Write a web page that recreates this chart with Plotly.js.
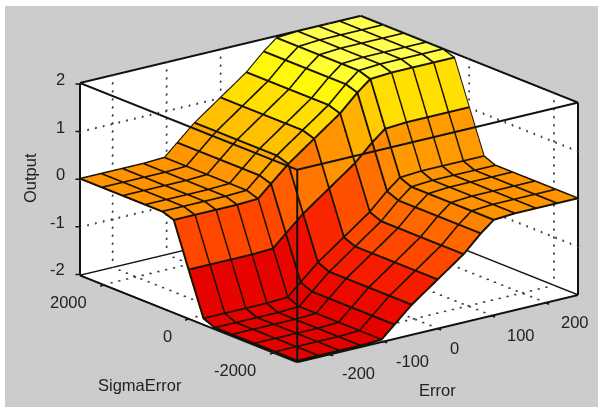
<!DOCTYPE html>
<html><head><meta charset="utf-8">
<script src="https://cdn.plot.ly/plotly-3.0.1.min.js"></script>
<style>html,body{margin:0;padding:0;background:#fff;overflow:hidden}#c{position:absolute;left:5px;top:6px;width:593px;height:401px}</style>
</head><body><div id="c"></div>
<script>
const errorGrid = [-260,-221,-182,-143,-104,-80,-48,0,48,80,104,143,182,221,260];
const sigmaGrid = [-2560,-2040,-1550,-1020,-620,-350,0,350,620,1020,1550,2040,2560];
const output = [
 [-2,-2,-2,-2,-1.98,-1.73,-1.4,-1,-.6,-.25,-.03,0,0,0,0],
 [-2,-2,-2,-2,-1.98,-1.73,-1.4,-1,-.6,-.25,-.03,0,0,0,0],
 [-2,-2,-2,-2,-1.98,-1.73,-1.4,-1,-.6,-.25,-.03,0,0,0,0],
 [-2,-2,-2,-2,-1.98,-1.73,-1.4,-1,-.6,-.25,-.03,0,0,0,0],
 [-2,-2,-2,-2,-1.98,-1.73,-1.4,-1,-.6,-.25,-.03,0,0,0,0],
 [-1.9,-1.9,-1.9,-1.9,-1.88,-1.63,-1.3,-.9,-.5,-.15,.07,.1,.1,.1,.1],
 [-1,-1,-1,-1,-.98,-.73,-.4,0,.4,.75,.97,1,1,1,1],
 [-.08,-.08,-.08,-.08,-.06,.19,.52,.92,1.32,1.67,1.89,1.92,1.92,1.92,1.92],
 [0,0,0,0,.02,.27,.6,1,1.4,1.75,1.97,2,2,2,2],
 [0,0,0,0,.02,.27,.6,1,1.4,1.75,1.97,2,2,2,2],
 [0,0,0,0,.02,.27,.6,1,1.4,1.75,1.97,2,2,2,2],
 [0,0,0,0,.02,.27,.6,1,1.4,1.75,1.97,2,2,2,2],
 [0,0,0,0,.02,.27,.6,1,1.4,1.75,1.97,2,2,2,2]
];
const errorTicks = [-200,-100,0,100,200];
const sigmaTicks = [-2000,0,2000];
const outputTicks = [-2,-1,0,1,2];
const errorRange = [-260,260], sigmaRange = [-2560,2560], outputRange = [-2.02,2.02];
const LIFT = 0.012;

const colors = [[0,'#e40000'],[.125,'#f51000'],[.25,'#ff4800'],[.375,'#ff7000'],[.5,'#ff9400'],[.625,'#ffb800'],[.75,'#ffdf00'],[.875,'#ffff0a'],[1,'#ffff50']];

const nx = errorGrid.length, ny = sigmaGrid.length;
const vx=[],vy=[],vz=[],ti=[],tj=[],tk=[],cell=[];
for(let r=0;r<ny;r++)for(let c=0;c<nx;c++){vx.push(errorGrid[c]);vy.push(sigmaGrid[r]);vz.push(output[r][c]);}
for(let r=0;r<ny-1;r++)for(let c=0;c<nx-1;c++){
  const a=r*nx+c,b=a+1,d=a+nx,e=d+1;
  ti.push(a,a);tj.push(b,e);tk.push(e,d);
  cell.push(output[r][c],output[r][c]);
}
const surf={type:'mesh3d',x:vx,y:vy,z:vz,i:ti,j:tj,k:tk,intensity:cell,intensitymode:'cell',
  colorscale:colors,cmin:-2,cmax:2,showscale:false,flatshading:true,hoverinfo:'skip',
  lighting:{ambient:1,diffuse:0,specular:0,fresnel:0,roughness:1},lightposition:{x:0,y:0,z:100000}};

const mx=[],my=[],mz=[];
for(let r=0;r<ny;r++){for(let c=0;c<nx;c++){mx.push(errorGrid[c]);my.push(sigmaGrid[r]);mz.push(output[r][c]+LIFT);}mx.push(null);my.push(null);mz.push(null);}
for(let c=0;c<nx;c++){for(let r=0;r<ny;r++){mx.push(errorGrid[c]);my.push(sigmaGrid[r]);mz.push(output[r][c]+LIFT);}mx.push(null);my.push(null);mz.push(null);}
const mesh={type:'scatter3d',mode:'lines',x:mx,y:my,z:mz,line:{color:'#1a1200',width:4},hoverinfo:'skip',connectgaps:false};

const X1=errorRange[1],X0=errorRange[0],Y1=sigmaRange[1],Y0=sigmaRange[0],Z0=outputRange[0],Z1=outputRange[1];
const gx=[],gy=[],gz=[];
function dots(a,b,n){for(let s=0;s<=n;s++){const f=s/n;gx.push(a[0]+(b[0]-a[0])*f);gy.push(a[1]+(b[1]-a[1])*f);gz.push(a[2]+(b[2]-a[2])*f);}}
const NV=24,NX=36,NY=30;
errorTicks.forEach(t=>{dots([t,Y1,Z0],[t,Y1,Z1],NV);dots([t,Y0,Z0],[t,Y1,Z0],NY);});
sigmaTicks.forEach(t=>{dots([X1,t,Z0],[X1,t,Z1],NV);dots([X0,t,Z0],[X1,t,Z0],NX);});
outputTicks.slice(1,-1).forEach(t=>{dots([X0,Y1,t],[X1,Y1,t],NX);dots([X1,Y0,t],[X1,Y1,t],NY);});
const grid={type:'scatter3d',mode:'markers',x:gx,y:gy,z:gz,marker:{color:'#444',size:1.5,symbol:'circle',line:{width:0}},hoverinfo:'skip'};

const ex=[],ey=[],ez=[];
function edge(a,b){ex.push(a[0],b[0],null);ey.push(a[1],b[1],null);ez.push(a[2],b[2],null);}
[Z0,Z1].forEach(z=>{edge([X0,Y0,z],[X1,Y0,z]);edge([X0,Y1,z],[X1,Y1,z]);edge([X0,Y0,z],[X0,Y1,z]);edge([X1,Y0,z],[X1,Y1,z]);});
[[X0,Y0],[X1,Y0],[X0,Y1],[X1,Y1]].forEach(p=>edge([p[0],p[1],Z0],[p[0],p[1],Z1]));
const edges={type:'scatter3d',mode:'lines',x:ex,y:ey,z:ez,line:{color:'#111',width:4},hoverinfo:'skip',connectgaps:false};

const ax=(range,ticks)=>({range:range,autorange:false,tickmode:'array',tickvals:ticks,ticks:'',
  showticklabels:false,showgrid:false,zeroline:false,showline:false,showspikes:false,
  showbackground:true,backgroundcolor:'#fff',title:{text:''}});

const tf={family:'"Liberation Sans",Arial,sans-serif',size:16.5,color:'#222'};
const ann=[];
const tick=(x,y,z,dx,dy)=>ann.push({x:x,y:y,z:z,text:' ',showarrow:true,arrowhead:0,arrowwidth:1.5,arrowcolor:'#111',ax:dx,ay:dy,standoff:0,font:{size:1}});
outputTicks.forEach(t=>{tick(X0,Y1,t,-6,0);ann.push({x:X0,y:Y1,z:t,text:String(t),showarrow:false,xanchor:'right',xshift:-13,yshift:5,font:tf});});
sigmaTicks.forEach(t=>{tick(X0,t,Z0,-5,2);ann.push({x:X0,y:t,z:Z0,text:String(t),showarrow:false,xanchor:'right',xshift:-15,yshift:-17,font:tf});});
errorTicks.forEach(t=>{tick(t,Y0,Z0,5,2);ann.push({x:t,y:Y0,z:Z0,text:String(t),showarrow:false,xanchor:'left',xshift:t>=100?13:10,yshift:-19,font:tf});});

const px=p=>(p-5)/593, py=p=>1-(p-6)/401;
const titles=[['Output',30,178,-90],['SigmaError',140,385,0],['Error',437,390,0]].map(t=>({xref:'paper',yref:'paper',x:px(t[1]),y:py(t[2]),text:t[0],textangle:t[3],showarrow:false,font:tf,xanchor:'center',yanchor:'middle'}));

const K=3, S=1.94;
const layout={width:593,height:401,margin:{l:0,r:0,t:0,b:0},paper_bgcolor:'#cccccc',showlegend:false,hovermode:false,annotations:titles,
 scene:{domain:{x:[55/593,1],y:[35/401,1]},bgcolor:'#cccccc',aspectmode:'manual',aspectratio:{x:S,y:S,z:0.57*S},
  xaxis:ax(errorRange,errorTicks),yaxis:ax(sigmaRange,sigmaTicks),zaxis:ax(outputRange,outputTicks),
  annotations:ann,
  camera:{projection:{type:'orthographic'},up:{x:0,y:0,z:1},center:{x:0,y:0,z:0},eye:{x:-0.582*K,y:-0.752*K,z:0.309*K}}}};
Plotly.newPlot('c',[surf,mesh,grid,edges],layout,{displayModeBar:false});
</script></body></html>
